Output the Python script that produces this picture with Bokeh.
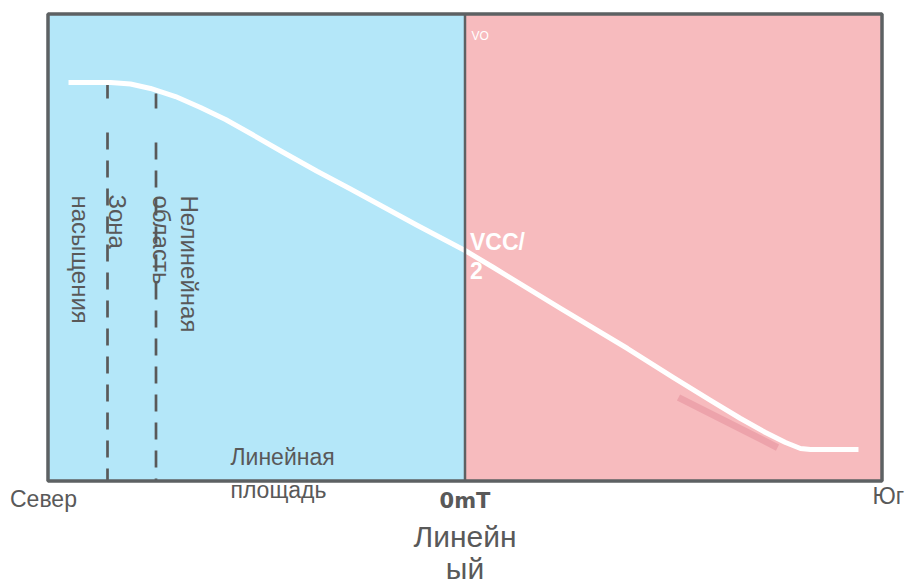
from bokeh.plotting import figure
from bokeh.models import Range1d
from bokeh.core.properties import value
from bokeh.embed import file_html
from bokeh.resources import INLINE
import math

# ---- data (normalised units: field -1 = North, 0 = 0mT, +1 = South; Vo 0..1) ----
field_limits = [-1.0, 0.0, 1.0]
vo_limits = [0.0, 1.0]

curve_field = [-0.9508, -0.8501, -0.8022, -0.7542, -0.6942, -0.6343, -0.5743, -0.5144,
               -0.4353, -0.3537, -0.2746, -0.1139, 0.0, 0.0683, 0.2290, 0.3897, 0.5,
               0.5887, 0.6607, 0.7206, 0.7686, 0.8046, 0.8285, 0.9436]
curve_vo = [0.8533, 0.8533, 0.8501, 0.8405, 0.8233, 0.7998, 0.7741, 0.7441,
            0.7034, 0.6627, 0.6253, 0.5471, 0.4936, 0.4572, 0.3694, 0.2837, 0.2216,
            0.1724, 0.1338, 0.1039, 0.0824, 0.0696, 0.0675, 0.0675]

shadow_field = [0.512, 0.7494]
shadow_vo = [0.1788, 0.0717]

zone_x = [-0.8573, -0.7410]
zone_top = [0.8512, 0.8298]
zone_break = [0.8191, 0.7976]
zone_resume = [0.7463, 0.7248]

rot_labels = ["насыщения", "Зона", "область", "Нелинейная"]
rot_x = [-0.9221, -0.8333, -0.7278, -0.6607]
rot_y = [0.6113, 0.6135, 0.6113, 0.6113]

gray_labels = ["Линейная", "площадь", "Север", "Юг"]
gray_x = [-0.5624, -0.5624, -1.0911, 0.9772]
gray_y = [0.0514, -0.0193, -0.0385, -0.0321]

zero_label = ["0mT"]
zero_x = [0.0]
zero_y = [-0.0428]

title_labels = ["Линейн", "ый"]
title_x = [0.0, 0.0]
title_y = [-0.1188, -0.1874]

vo_label = ["VO"]
vo_x = [0.0156]
vo_y = [0.9533]

vcc_labels = ["VCC/", "2"]
vcc_x = [0.012, 0.012]
vcc_y = [0.5118, 0.4518]

BLUE = "#b4e7f9"
PINK = "#f7bbbe"
BORDER = "#5d6163"
GRAY = "#595959"

p = figure(width=905, height=585,
           x_range=Range1d(-1.11391, 1.05635), y_range=Range1d(-0.22377, 1.02891),
           output_backend="svg", toolbar_location=None,
           x_axis_type=None, y_axis_type=None, min_border=0,
           outline_line_color=None, background_fill_color="white",
           border_fill_color="white")
p.grid.visible = False

# regions
p.quad(left=[field_limits[0]], right=[field_limits[1]], bottom=[vo_limits[0]], top=[vo_limits[1]],
       fill_color=BLUE, line_color=None)
p.quad(left=[field_limits[1]], right=[field_limits[2]], bottom=[vo_limits[0]], top=[vo_limits[1]],
       fill_color=PINK, line_color=None)

# dashed zone lines
for i in range(len(zone_x)):
    p.line([zone_x[i], zone_x[i]], [zone_top[i], zone_break[i]], line_color=GRAY, line_width=2.7)
    p.line([zone_x[i], zone_x[i]], [zone_resume[i], vo_limits[0]], line_color=GRAY,
           line_width=2.7, line_dash="17 11")

# shadow + curve
p.line(shadow_field, shadow_vo, line_color="#eda3ab", line_width=7)
p.line(curve_field, curve_vo, line_color="white", line_width=5, line_join="round")

# border & divider
p.quad(left=[field_limits[0]], right=[field_limits[2]], bottom=[vo_limits[0]], top=[vo_limits[1]],
       fill_color=None, line_color=BORDER, line_width=3.5)
p.segment(x0=[field_limits[1]], y0=[vo_limits[0]], x1=[field_limits[1]], y1=[vo_limits[1]],
          line_color=BORDER, line_width=2.5)

font = value("Liberation Sans")

p.text(x=rot_x, y=rot_y, text=rot_labels, angle=-math.pi / 2,
       text_font=font, text_font_size=value("24px"), text_color=GRAY,
       text_align="left", text_baseline="alphabetic")

p.text(x=gray_x, y=gray_y, text=gray_labels,
       text_font=font, text_font_size=value("23px"), text_color=GRAY,
       text_align="left", text_baseline="alphabetic")

p.text(x=zero_x, y=zero_y, text=zero_label,
       text_font=value("DejaVu Sans"), text_font_style="bold", text_font_size=value("21px"),
       text_color=GRAY, text_align="center", text_baseline="alphabetic")

p.text(x=title_x, y=title_y, text=title_labels,
       text_font=font, text_font_size=value("30px"), text_color=GRAY,
       text_align="center", text_baseline="alphabetic")

p.text(x=vo_x, y=vo_y, text=vo_label,
       text_font=font, text_font_size=value("12px"), text_color="white",
       text_align="left", text_baseline="alphabetic")

p.text(x=vcc_x, y=vcc_y, text=vcc_labels,
       text_font=font, text_font_style="bold", text_font_size=value("23px"), text_color="white",
       text_align="left", text_baseline="alphabetic")

open("out.html", "w").write(file_html(p, INLINE))
